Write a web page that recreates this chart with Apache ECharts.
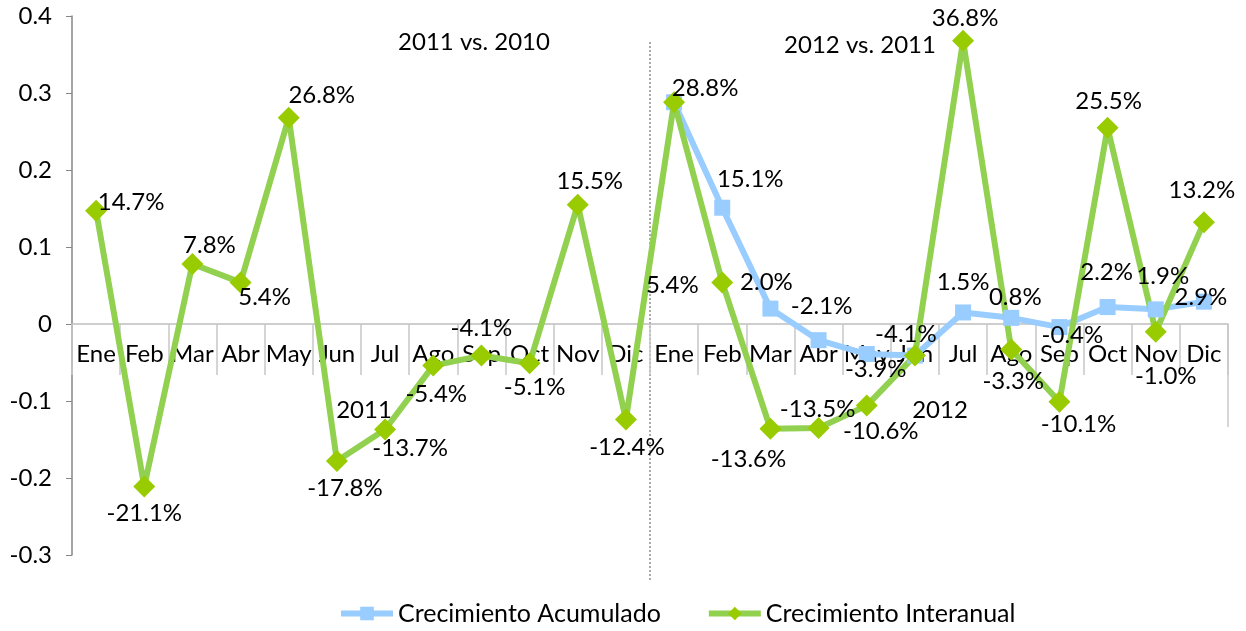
<!DOCTYPE html>
<html>
<head>
<meta charset="utf-8">
<script src="https://cdn.jsdelivr.net/npm/echarts@6/dist/echarts.min.js"></script>
<style>
  html, body { margin: 0; padding: 0; background: #fff; }
  #chart { width: 1246px; height: 631px; }
</style>
</head>
<body>
<div id="chart"></div>
<script>
// months, two years side by side
var months = ['Ene','Feb','Mar','Abr','May','Jun','Jul','Ago','Sep','Oct','Nov','Dic',
              'Ene','Feb','Mar','Abr','May','Jun','Jul','Ago','Sep','Oct','Nov','Dic'];

// Crecimiento Acumulado (only 2012)
var acumulado = [null,null,null,null,null,null,null,null,null,null,null,null,
                 0.288,0.151,0.020,-0.021,-0.039,-0.041,0.015,0.008,-0.004,0.022,0.019,0.029];

// Crecimiento Interanual
var interanual = [0.147,-0.211,0.078,0.054,0.268,-0.178,-0.137,-0.054,-0.041,-0.051,0.155,-0.124,
                  0.288,0.054,-0.136,-0.135,-0.106,-0.041,0.368,-0.033,-0.101,0.255,-0.010,0.132];

// label offsets from the marker (pixels); null = no label
var acumLabelOff = [null,null,null,null,null,null,null,null,null,null,null,null,
                    null,[28,-28],[-4,-26],[3,-34],[9,15],null,[0,-30],[4,-21],[13,8],[-1,-35],[7,-33],[-3,-4]];
var interLabelOff = [[35,-9],[0,27],[17,-19],[24,15],[33,-22],[8,27],[25,19],[3,29],[0,-27],[5,24],[12,-23],[1,28],
                     [31,-14],[-50,3],[-22,31],[-1,-19],[14,26],[-9,-21],[2,-22],[2,32],[19,22],[1,-26],[10,45],[-2,-32]];

function pct(v) { return (v * 100).toFixed(1) + '%'; }

function buildData(values, offs) {
    return values.map(function(v, i) {
        if (v === null) return '-';
        var o = offs[i];
        return {
            value: v,
            label: o ? { show: true, position: 'inside', offset: o, formatter: pct(v) } : { show: false }
        };
    });
}

var font = 'Lato, "Open Sans", sans-serif';
var fs = 24;
var gridTop = 16, gridBottom = 76, H = 631;
var yMin = -0.3, yMax = 0.4;
// move the category axis up onto the zero line
var zeroShift = (H - gridTop - gridBottom) * (0 - yMin) / (yMax - yMin);

var chart = echarts.init(document.getElementById('chart'));

chart.setOption({
    animation: false,
    textStyle: { fontFamily: font },
    grid: { left: 72, right: 18, top: gridTop, bottom: gridBottom, containLabel: false },
    legend: {
        bottom: 0,
        left: 333,
        itemWidth: 52,
        itemHeight: 17,
        itemGap: 45,
        lineStyle: { width: 6 },
        textStyle: { fontSize: 25, color: '#000', fontFamily: font },
        data: ['Crecimiento Acumulado', 'Crecimiento Interanual']
    },
    xAxis: {
        type: 'category',
        data: months,
        boundaryGap: true,
        position: 'bottom',
        offset: -zeroShift,
        axisLine: { onZero: false, lineStyle: { color: '#BFBFBF', width: 1.5 } },
        axisTick: { show: true, length: 51, alignWithLabel: false, lineStyle: { color: '#C8C8C8', width: 1.5 } },
        axisLabel: { color: '#000', fontSize: fs, margin: 18, interval: 0, fontFamily: font }
    },
    yAxis: {
        type: 'value',
        min: yMin,
        max: yMax,
        interval: 0.1,
        axisLine: { show: true, lineStyle: { color: '#868686', width: 1.5 } },
        axisTick: { show: true, length: 6, lineStyle: { color: '#868686' } },
        axisLabel: { color: '#000', fontSize: fs, margin: 20, fontFamily: font,
                     formatter: function(v) { return Math.round(v * 10) / 10 + ''; } },
        splitLine: { show: false }
    },
    series: [
        {
            name: 'Crecimiento Acumulado',
            type: 'line',
            data: buildData(acumulado, acumLabelOff),
            symbol: 'rect',
            symbolSize: 16,
            lineStyle: { color: '#99CCFF', width: 6 },
            itemStyle: { color: '#99CCFF' },
            label: { color: '#000', fontSize: fs, fontFamily: font }
        },
        {
            name: 'Crecimiento Interanual',
            type: 'line',
            data: buildData(interanual, interLabelOff),
            symbol: 'diamond',
            symbolSize: 22,
            lineStyle: { color: '#92D050', width: 6 },
            itemStyle: { color: '#99CC00' },
            label: { color: '#000', fontSize: fs, fontFamily: font }
        }
    ]
});

// divider between the two years, captions and the right end line
var p11 = chart.convertToPixel({ gridIndex: 0 }, [11, 0]);
var p12 = chart.convertToPixel({ gridIndex: 0 }, [12, 0]);
var xDiv = (p11[0] + p12[0]) / 2;
var xEnd = chart.convertToPixel({ gridIndex: 0 }, [23, 0])[0] + (p12[0] - p11[0]) / 2;
var txt = { fill: '#000', fontSize: fs, fontFamily: font, align: 'center', verticalAlign: 'middle' };

chart.setOption({
    graphic: [
        { type: 'line', shape: { x1: xDiv, y1: 42, x2: xDiv, y2: 580 },
          style: { stroke: '#555', lineWidth: 1, lineDash: [2, 2] } },
        { type: 'line', shape: { x1: xEnd, y1: p11[1], x2: xEnd, y2: p11[1] + 103 },
          style: { stroke: '#C8C8C8', lineWidth: 1.5 } },
        { type: 'text', x: 474, y: 42, style: Object.assign({ text: '2011 vs. 2010' }, txt) },
        { type: 'text', x: 860, y: 45, style: Object.assign({ text: '2012 vs. 2011' }, txt) },
        { type: 'text', x: 364, y: 410, style: Object.assign({ text: '2011' }, txt) },
        { type: 'text', x: 940, y: 410, style: Object.assign({ text: '2012' }, txt) }
    ]
});
</script>
</body>
</html>
